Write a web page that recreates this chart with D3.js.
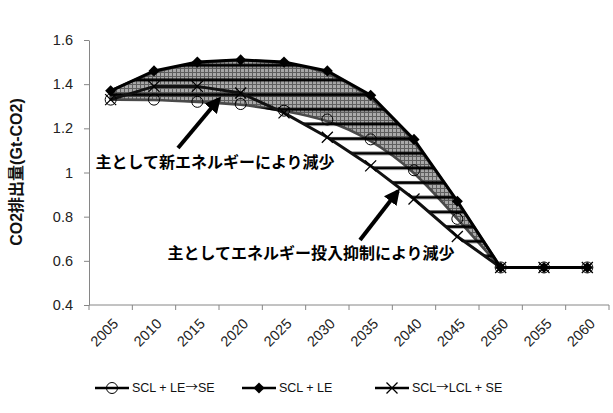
<!DOCTYPE html>
<html>
<head>
<meta charset="utf-8">
<script src="https://cdn.jsdelivr.net/npm/d3@7"></script>
<style>
  body { margin: 0; background: #fff; }
  svg { display: block; }
</style>
</head>
<body>
<svg id="chart" width="613" height="413"></svg>
<script>
// Years on the category axis
const years = [2005, 2010, 2015, 2020, 2025, 2030, 2035, 2040, 2045, 2050, 2055, 2060];
// CO2 emissions (Gt-CO2) per scenario
const seriesLE      = [1.37, 1.46, 1.50, 1.51, 1.50, 1.46, 1.35, 1.15, 0.87, 0.57, 0.57, 0.57]; // SCL + LE
const seriesLEtoSE  = [1.33, 1.33, 1.32, 1.31, 1.28, 1.24, 1.15, 1.01, 0.79, 0.57, 0.57, 0.57]; // SCL + LE→SE
const seriesLCL     = [1.33, 1.39, 1.39, 1.36, 1.27, 1.16, 1.03, 0.88, 0.71, 0.57, 0.57, 0.57]; // SCL→LCL + SE
const seriesNames   = [["SCL + LE", "→", "SE"], ["SCL + LE"], ["SCL", "→", "LCL + SE"]];
const yTicks        = [0.4, 0.6, 0.8, 1.0, 1.2, 1.4, 1.6];
const yTitle        = "CO2排出量(Gt-CO2)";
const noteNewEnergy = "主として新エネルギーにより減少";
const noteInput     = "主としてエネルギー投入抑制により減少";

const svg = d3.select("#chart");
const x = d3.scaleBand().domain(years).range([89, 609]);
const cx = d => x(d) + x.bandwidth() / 2;
const y = d3.scaleLinear().domain([0.4, 1.6]).range([305, 40]);
const axisColor = "#868686";
const latin = "Liberation Sans, Arial, sans-serif";
const cjk = "Noto Sans CJK JP, sans-serif";

// ---- fill patterns ----
const defs = svg.append("defs");
const stripeGap = 14.67;
const stripes = defs.append("pattern").attr("id", "stripes")
  .attr("patternUnits", "userSpaceOnUse")
  .attr("width", 20).attr("height", stripeGap);
stripes.append("rect").attr("x", 0).attr("y", 80 - 5 * stripeGap - 1.5)
  .attr("width", 20).attr("height", 3).attr("fill", "#000");

const grid = defs.append("pattern").attr("id", "grid")
  .attr("patternUnits", "userSpaceOnUse").attr("width", 4).attr("height", 4);
grid.append("rect").attr("width", 4).attr("height", 4).attr("fill", "#a9a9a9");
grid.append("path").attr("d", "M0,0.5H4M0.5,0V4").attr("stroke", "#5e5e5e").attr("stroke-width", 1);

// ---- axes ----
const yAxis = svg.append("g").attr("transform", "translate(89,0)")
  .call(d3.axisLeft(y).tickValues(yTicks).tickSize(5).tickSizeOuter(0).tickPadding(11)
    .tickFormat(d => String(+d.toFixed(1))));
yAxis.select(".domain").attr("stroke", axisColor);
yAxis.selectAll(".tick line").attr("stroke", axisColor);
yAxis.selectAll(".tick text").attr("font-family", latin)
  .attr("font-size", 14.5).attr("fill", "#222");

const xg = svg.append("g");
xg.append("line").attr("x1", x.range()[0]).attr("x2", x.range()[1])
  .attr("y1", y(0.4)).attr("y2", y(0.4)).attr("stroke", axisColor);
const bounds = years.map(d => x(d)).concat([x.range()[1]]);
xg.selectAll("line.tk").data(bounds).join("line").attr("class", "tk")
  .attr("x1", d => d).attr("x2", d => d)
  .attr("y1", y(0.4)).attr("y2", y(0.4) + 5).attr("stroke", axisColor);
xg.selectAll("text").data(years).join("text")
  .attr("transform", d => `translate(${cx(d) + 5},${y(0.4) + 16}) rotate(-45)`)
  .attr("text-anchor", "end").attr("dy", "0.35em")
  .attr("font-family", latin).attr("font-size", 14.5).attr("fill", "#222")
  .text(d => d);

svg.append("text")
  .attr("transform", `translate(22,172) rotate(-90)`)
  .attr("text-anchor", "middle")
  .attr("font-family", "Liberation Sans, Noto Sans CJK JP, sans-serif")
  .attr("font-weight", "bold").attr("font-size", 16).attr("fill", "#111")
  .text(yTitle);

// ---- shaded regions (up to 2050, where the scenarios meet) ----
const idx = d3.range(years.indexOf(2050) + 1);

const grayArea = d3.area()
  .x(i => cx(years[i]))
  .y0(i => y(seriesLEtoSE[i]))
  .y1(i => y(seriesLE[i]))
  .curve(d3.curveBasis);
svg.append("path").datum(idx).attr("d", grayArea)
  .attr("fill", "url(#grid)").attr("stroke", "#4a4a4a").attr("stroke-width", 2.6);

const stripeArea = d3.area()
  .x(i => cx(years[i]))
  .y0(i => y(Math.min(seriesLEtoSE[i], seriesLCL[i])))
  .y1(i => y(seriesLE[i]));
svg.append("path").datum(idx).attr("d", stripeArea).attr("fill", "url(#stripes)");

// ---- series lines ----
const line = vals => d3.line().x((v, i) => cx(years[i])).y(v => y(v))(vals);
svg.append("path").attr("d", line(seriesLCL)).attr("fill", "none")
  .attr("stroke", "#111").attr("stroke-width", 3);
svg.append("path").attr("d", line(seriesLE)).attr("fill", "none")
  .attr("stroke", "#000").attr("stroke-width", 3);

// ---- markers ----
const diamond = d3.symbol(d3.symbolSquare, 62)();
const cross = "M-5.5,-5.5L5.5,5.5M-5.5,5.5L5.5,-5.5";

function drawCircle(g, px, py) {
  g.append("circle").attr("cx", px).attr("cy", py).attr("r", 5.5)
    .attr("fill", "none").attr("stroke", "#000").attr("stroke-width", 1);
}
function drawDiamond(g, px, py) {
  g.append("path").attr("d", diamond)
    .attr("transform", `translate(${px},${py}) rotate(45)`).attr("fill", "#000");
}
function drawCross(g, px, py) {
  g.append("path").attr("d", cross).attr("transform", `translate(${px},${py})`)
    .attr("fill", "none").attr("stroke", "#000").attr("stroke-width", 1.3);
}

const mk = svg.append("g");
years.forEach((yr, i) => drawCircle(mk, cx(yr), y(seriesLEtoSE[i])));
years.forEach((yr, i) => drawCross(mk, cx(yr), y(seriesLCL[i])));
years.forEach((yr, i) => drawDiamond(mk, cx(yr), y(seriesLE[i])));

// ---- annotations ----
defs.append("marker").attr("id", "head")
  .attr("viewBox", "0 0 10 10").attr("refX", 8).attr("refY", 5)
  .attr("markerWidth", 4).attr("markerHeight", 4).attr("orient", "auto")
  .append("path").attr("d", "M0,0L10,5L0,10Z").attr("fill", "#000");

const notes = [
  { text: noteNewEnergy, tx: 215, ty: 162, from: [178, 148], to: [219, 99] },
  { text: noteInput,     tx: 311, ty: 253, from: [360, 240], to: [398, 191] }
];
notes.forEach(n => {
  svg.append("line").attr("x1", n.from[0]).attr("y1", n.from[1])
    .attr("x2", n.to[0]).attr("y2", n.to[1])
    .attr("stroke", "#000").attr("stroke-width", 4).attr("marker-end", "url(#head)");
  svg.append("text").attr("x", n.tx).attr("y", n.ty).attr("dy", "0.35em")
    .attr("text-anchor", "middle")
    .attr("font-family", cjk).attr("font-weight", "bold")
    .attr("font-size", 16).attr("fill", "#000").text(n.text);
});

// ---- legend ----
const legendItems = [
  { name: seriesNames[0], draw: drawCircle,  x0: 95 },
  { name: seriesNames[1], draw: drawDiamond, x0: 242 },
  { name: seriesNames[2], draw: drawCross,   x0: 375 }
];
const lg = svg.append("g");
legendItems.forEach(it => {
  const ly = 388;
  lg.append("line").attr("x1", it.x0).attr("x2", it.x0 + 34)
    .attr("y1", ly).attr("y2", ly).attr("stroke", "#000").attr("stroke-width", 2.5);
  it.draw(lg, it.x0 + 17, ly);
  const t = lg.append("text").attr("x", it.x0 + 37).attr("y", ly).attr("dy", "0.35em")
    .attr("font-family", latin).attr("font-size", 12.5).attr("fill", "#111");
  it.name.forEach(part => {
    t.append("tspan").attr("font-family", part === "→" ? cjk : latin).text(part);
  });
});
</script>
</body>
</html>
